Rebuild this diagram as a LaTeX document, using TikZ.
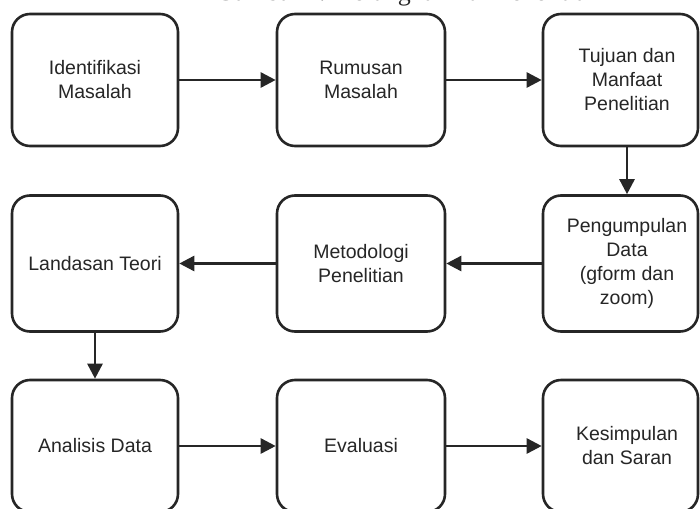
\documentclass[tikz,border=0pt]{standalone}
\usepackage{fontspec}
\setmainfont{Liberation Sans}
\newfontfamily\titlefont{Liberation Serif}
\usetikzlibrary{arrows.meta}
\definecolor{ink}{HTML}{262626}
\begin{document}
\begin{tikzpicture}[x=1pt,y=-1pt,
  box/.style={draw=ink,line width=2.6pt,rounded corners=18pt,fill=white,
    minimum height=#1,inner sep=0pt},
  box/.default=132pt,
  lbl/.style={text=ink,font=\fontsize{19.5}{24}\selectfont,align=center,inner sep=0pt},
  conn/.style={draw=ink,line width=2.6pt,-{Triangle[length=15pt,width=15pt]}}]
\useasboundingbox (0,0) rectangle (700,508);
% title (clipped at the top edge, as in the reference)
\node[anchor=base,text=ink,font=\titlefont\fontsize{26}{28}\selectfont,inner sep=0pt] (title) at (408,0.5) {Gambar 1. Kerangka Alur Penelitian};
% row 1
\node[box,minimum width=166pt] (b1) at (95,80) {};
\node[lbl] at (95,80) {Identifikasi\\Masalah};
\node[box,minimum width=168pt] (b2) at (361,80) {};
\node[lbl] at (361,80) {Rumusan\\Masalah};
\node[box,minimum width=155pt] (b3) at (620.5,80) {};
\node[lbl] at (627,80) {Tujuan dan\\Manfaat\\Penelitian};
% row 2
\node[box=136pt,minimum width=166pt] (b4) at (95,263.5) {};
\node[lbl] at (95,263.5) {Landasan Teori};
\node[box=136pt,minimum width=168pt] (b5) at (361,263.5) {};
\node[lbl] at (361,263.5) {Metodologi\\Penelitian};
\node[box=136pt,minimum width=155pt] (b6) at (620.5,263.5) {};
\node[lbl] at (627,263.5) {Pengumpulan\\Data\\(gform dan\\zoom)};
% row 3
\node[box,minimum width=166pt] (b7) at (95,446) {};
\node[lbl] at (95,446) {Analisis Data};
\node[box,minimum width=168pt] (b8) at (361,446) {};
\node[lbl] at (361,446) {Evaluasi};
\node[box,minimum width=155pt] (b9) at (620.5,446) {};
\node[lbl] at (627,446) {Kesimpulan\\dan Saran};
% connectors
\draw[conn] (b1.east) -- (b2.west);
\draw[conn] (b2.east) -- (b3.west);
\draw[conn] (b3.south -| 627,0) -- (b6.north -| 627,0);
\draw[conn] (b6.west) -- (b5.east);
\draw[conn] (b5.west) -- (b4.east);
\draw[conn] (b4.south) -- (b7.north);
\draw[conn] (b7.east) -- (b8.west);
\draw[conn] (b8.east) -- (b9.west);
\end{tikzpicture}
\end{document}
